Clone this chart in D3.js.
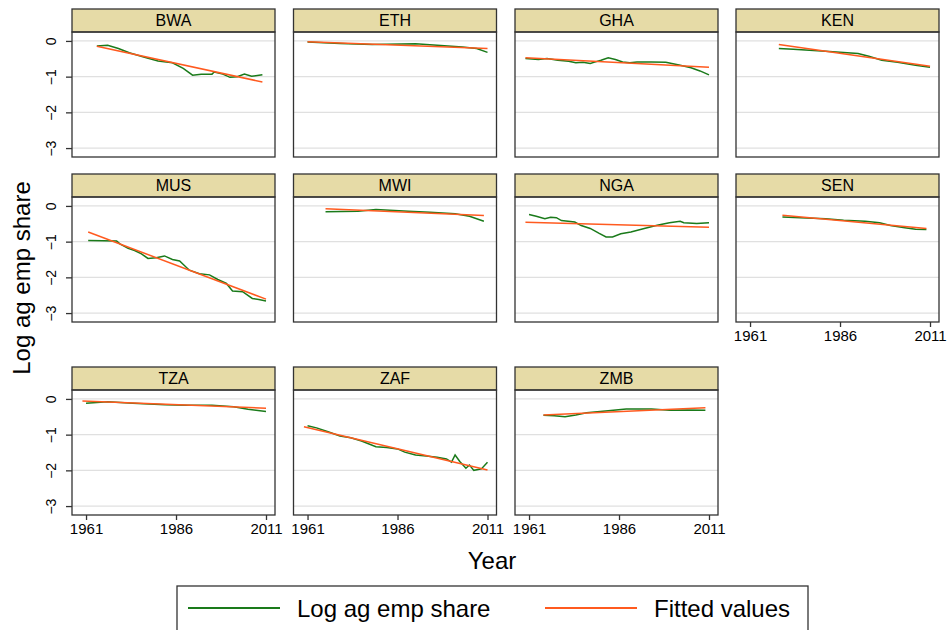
<!DOCTYPE html>
<html lang="en">
<head>
<meta charset="utf-8">
<title>Log ag emp share by country</title>
<script src="https://d3js.org/d3.v7.min.js"></script>
<style>
  body { margin: 0; background: #fff; }
  text { font-family: "Liberation Sans", Arial, sans-serif; fill: #000; }
</style>
</head>
<body>
<script>
// country panels, in the order they are drawn
var countries = ["BWA", "ETH", "GHA", "KEN", "MUS", "MWI", "NGA", "SEN", "TZA", "ZAF", "ZMB"];

// log agricultural employment share, [year, value]
var shareBWA = [[1964,-0.14],[1967,-0.12],[1970,-0.21],[1973,-0.33],[1977,-0.45],[1981,-0.56],[1985,-0.61],[1988,-0.77],[1990.6,-0.96],[1993,-0.93],[1996,-0.93],[1996.6,-0.87],[1999,-0.93],[2001,-1.02],[2003,-1.0],[2005,-0.93],[2007,-0.99],[2010,-0.95]];
var shareETH = [[1961,-0.03],[1970,-0.07],[1979,-0.10],[1991,-0.08],[1998,-0.13],[2004,-0.17],[2008,-0.21],[2011,-0.32]];
var shareGHA = [[1960,-0.49],[1963.6,-0.52],[1966,-0.49],[1969,-0.54],[1972,-0.57],[1974,-0.61],[1976,-0.60],[1978,-0.63],[1979,-0.60],[1981,-0.54],[1983,-0.47],[1985,-0.52],[1987,-0.59],[1989,-0.61],[1991,-0.59],[1995,-0.59],[1999,-0.60],[2003,-0.68],[2006,-0.75],[2008.5,-0.84],[2011,-0.95]];
var shareKEN = [[1969,-0.21],[1973,-0.23],[1982,-0.29],[1991,-0.35],[1994,-0.43],[1997.6,-0.54],[2002,-0.60],[2007,-0.68],[2011,-0.74]];
var shareMUS = [[1961.6,-0.97],[1969.5,-0.98],[1970.4,-1.06],[1972.7,-1.19],[1974.5,-1.25],[1976.4,-1.34],[1978.2,-1.47],[1980.5,-1.45],[1982.8,-1.40],[1985,-1.50],[1987,-1.54],[1989.7,-1.80],[1992.5,-1.90],[1995.3,-1.93],[1997.6,-2.06],[2000,-2.17],[2001.7,-2.38],[2004.5,-2.40],[2007.2,-2.59],[2009,-2.62],[2011,-2.66]];
var shareMWI = [[1966,-0.16],[1975,-0.15],[1980,-0.10],[1989,-0.15],[1995,-0.18],[2002,-0.22],[2006,-0.29],[2010,-0.43]];
var shareNGA = [[1961,-0.24],[1963,-0.29],[1965.4,-0.36],[1967,-0.32],[1968.6,-0.33],[1970,-0.41],[1973.7,-0.45],[1975.5,-0.55],[1978,-0.63],[1980.5,-0.77],[1982.4,-0.87],[1984.2,-0.87],[1986.5,-0.78],[1989.3,-0.73],[1993,-0.63],[1996.6,-0.54],[2000,-0.47],[2003,-0.43],[2004,-0.47],[2007.6,-0.49],[2011,-0.47]];
var shareSEN = [[1970,-0.31],[1975,-0.33],[1982,-0.36],[1987,-0.40],[1993,-0.43],[1997,-0.47],[2000,-0.55],[2004,-0.61],[2007,-0.65],[2010,-0.66]];
var shareTZA = [[1961,-0.12],[1967,-0.08],[1974,-0.12],[1983,-0.16],[1989,-0.18],[1996,-0.18],[2002,-0.22],[2006,-0.29],[2011,-0.35]];
var shareZAF = [[1961,-0.75],[1963.5,-0.81],[1966.7,-0.92],[1970,-1.04],[1973,-1.09],[1976,-1.18],[1980,-1.34],[1983,-1.36],[1986,-1.40],[1988,-1.49],[1991,-1.57],[1994,-1.60],[1997,-1.63],[1999.6,-1.68],[2001,-1.77],[2002,-1.57],[2003.3,-1.75],[2005,-1.94],[2006,-1.85],[2007.2,-2.00],[2009.3,-1.96],[2011,-1.77]];
var shareZMB = [[1965,-0.46],[1968,-0.47],[1971,-0.50],[1974,-0.45],[1977,-0.39],[1983,-0.33],[1988,-0.28],[1995,-0.28],[2000,-0.32],[2005,-0.31],[2010,-0.32]];

var shareSeries = [shareBWA, shareETH, shareGHA, shareKEN, shareMUS, shareMWI, shareNGA, shareSEN, shareTZA, shareZAF, shareZMB];

// fitted values: end points of each straight fit line
var fitStartYear  = [1964, 1961, 1960, 1969, 1961.6, 1966, 1960, 1970, 1960, 1960, 1965];
var fitStartValue = [-0.15, -0.02, -0.47, -0.10, -0.73, -0.08, -0.46, -0.26, -0.06, -0.78, -0.45];
var fitEndYear    = [2010, 2011, 2011, 2011, 2011, 2010, 2011, 2010, 2011, 2011, 2010];
var fitEndValue   = [-1.15, -0.21, -0.74, -0.71, -2.61, -0.27, -0.60, -0.63, -0.26, -1.99, -0.25];

var yTicks = [0, -1, -2, -3];
var xTicks = [1961, 1986, 2011];

var w = 948, h = 630;
var colLeft = [72, 293.5, 515, 736];
var rowTop = [9, 174, 367];
var panelW = 203, stripH = 23, plotH = 125;
var green = "#1a7a1a", orange = "#ff5a1f";

var svg = d3.select("body").append("svg")
  .attr("width", w)
  .attr("height", h);

var xScale = d3.scaleLinear().domain([1957.1, 2013.5]).range([0, panelW]);
var yScale = d3.scaleLinear().domain([0.25, -3.25]).range([0, plotH]);

var line = d3.line()
  .x(function(d) { return xScale(d[0]); })
  .y(function(d) { return yScale(d[1]); });

countries.forEach(function(c, i) {
  var row = Math.floor(i / 4), col = i % 4;
  var g = svg.append("g")
    .attr("transform", "translate(" + colLeft[col] + "," + rowTop[row] + ")");

  // strip with the country code
  g.append("rect")
    .attr("width", panelW).attr("height", stripH)
    .style("fill", "#e6dba7").style("stroke", "#333").style("stroke-width", 1.3);
  g.append("text")
    .attr("x", panelW / 2).attr("y", stripH / 2)
    .attr("dy", "0.36em")
    .attr("text-anchor", "middle")
    .style("font-size", "16px")
    .text(c);

  var p = g.append("g").attr("transform", "translate(0," + stripH + ")");

  p.selectAll(".grid")
    .data(yTicks)
    .enter().append("line")
    .attr("x1", 0).attr("x2", panelW)
    .attr("y1", function(d) { return yScale(d); })
    .attr("y2", function(d) { return yScale(d); })
    .style("stroke", "#e0e0e0").style("stroke-width", 1.3);

  p.append("path")
    .datum(shareSeries[i])
    .attr("d", line)
    .style("fill", "none").style("stroke", green).style("stroke-width", 1.5);

  p.append("path")
    .datum([[fitStartYear[i], fitStartValue[i]], [fitEndYear[i], fitEndValue[i]]])
    .attr("d", line)
    .style("fill", "none").style("stroke", orange).style("stroke-width", 1.5);

  p.append("rect")
    .attr("width", panelW).attr("height", plotH)
    .style("fill", "none").style("stroke", "#333").style("stroke-width", 1.3);

  if (col === 0) {
    var ya = p.append("g")
      .call(d3.axisLeft(yScale).tickValues(yTicks).tickSize(6).tickFormat(d3.format("d")));
    ya.select(".domain").remove();
    ya.selectAll("line").style("stroke", "#333").style("stroke-width", 1.3);
    ya.selectAll("text")
      .attr("x", 0).attr("dy", 0)
      .attr("transform", "translate(-16,0) rotate(-90)")
      .attr("text-anchor", "middle")
      .style("font-size", "14px")
      .style("font-family", "'Liberation Sans', Arial, sans-serif")
      .style("fill", "#000");
  }

  if (i >= 7) {
    var xa = p.append("g")
      .attr("transform", "translate(0," + plotH + ")")
      .call(d3.axisBottom(xScale).tickValues(xTicks).tickSize(5).tickPadding(3).tickFormat(d3.format("d")));
    xa.select(".domain").remove();
    xa.selectAll("line").style("stroke", "#333").style("stroke-width", 1.3);
    xa.selectAll("text")
      .style("font-size", "15px")
      .style("font-family", "'Liberation Sans', Arial, sans-serif")
      .style("fill", "#000");
  }
});

// axis titles
svg.append("text")
  .attr("transform", "translate(30,278) rotate(-90)")
  .attr("text-anchor", "middle")
  .style("font-size", "24px")
  .text("Log ag emp share");

svg.append("text")
  .attr("x", 492).attr("y", 569)
  .attr("text-anchor", "middle")
  .style("font-size", "24px")
  .text("Year");

// legend
var legend = svg.append("g");
legend.append("rect")
  .attr("x", 177).attr("y", 586).attr("width", 631).attr("height", 60)
  .style("fill", "#fff").style("stroke", "#333").style("stroke-width", 1.3);

var legendItems = [
  {label: "Log ag emp share", color: green, x: 188},
  {label: "Fitted values", color: orange, x: 545}
];
legendItems.forEach(function(d) {
  legend.append("line")
    .attr("x1", d.x).attr("x2", d.x + 92)
    .attr("y1", 608).attr("y2", 608)
    .style("stroke", d.color).style("stroke-width", 2);
  legend.append("text")
    .attr("x", d.x + 109).attr("y", 617)
    .style("font-size", "24px")
    .text(d.label);
});
</script>
</body>
</html>
